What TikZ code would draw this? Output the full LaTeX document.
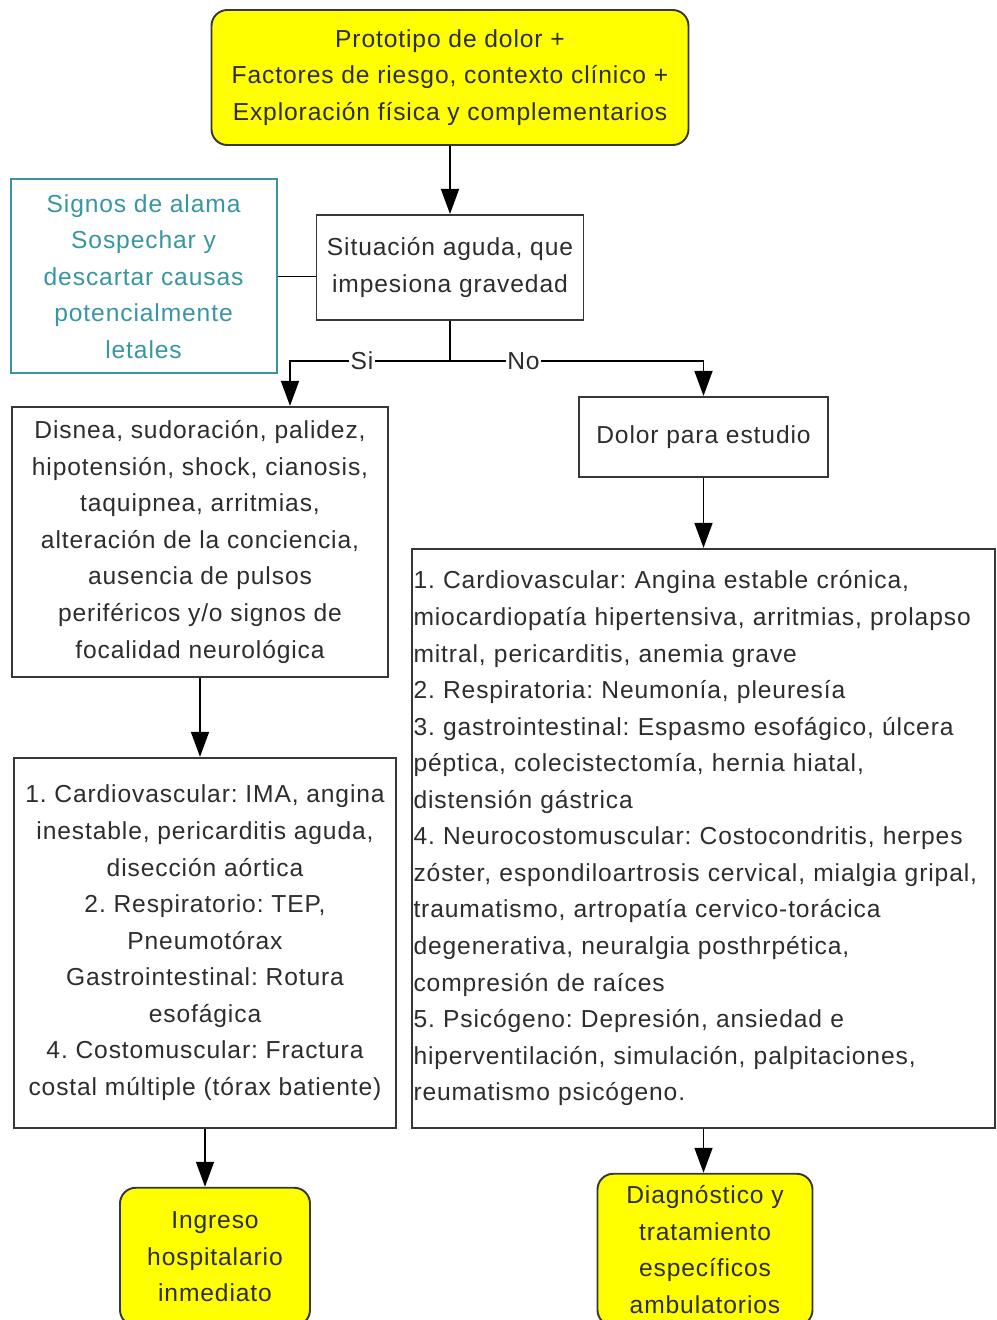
\documentclass[tikz,border=0pt]{standalone}
\usepackage{fontspec}
\setmainfont{Liberation Sans}[LetterSpace=3.6]
\usetikzlibrary{arrows.meta, positioning}
\frenchspacing

\definecolor{boxline}{RGB}{55,55,55}
\definecolor{textgray}{RGB}{45,45,45}
\definecolor{alarmteal}{RGB}{55,150,160}
\definecolor{endyellow}{RGB}{255,255,0}

\begin{document}
\begin{tikzpicture}[
      font=\fontsize{14}{20.8}\selectfont,
      text=textgray,
      plainbox/.style={
        draw=boxline,
        line width=1.1pt,
        align=center,
        inner sep=2pt
      },
      endbox/.style={
        plainbox,
        fill=endyellow,
        rounded corners=9pt
      },
      alarmbox/.style={
        draw=alarmteal,
        line width=1.1pt,
        text=alarmteal,
        align=center
      },
      flow/.style={-{Triangle[length=5mm,width=3.6mm]}, draw=black, line width=0.9pt},
      link/.style={draw=black, line width=0.9pt},
      branch/.style={fill=white, inner sep=1pt, text=textgray}
    ]
    \useasboundingbox (0,0) rectangle (19.94,-26.4);

    % Entrada y decision
    \node[endbox, minimum width=9.54cm, minimum height=2.7cm] (proto) at (9.0,-1.55)
      {Prototipo de dolor +\\Factores de riesgo, contexto clínico +\\Exploración física y complementarios};
    \node[plainbox, minimum width=5.34cm, minimum height=2.1cm, below=1.36cm of proto] (sit)
      {Situación aguda, que\\impesiona gravedad};
    \node[alarmbox, minimum width=5.32cm, minimum height=3.88cm, left=0.76cm of sit, yshift=-0.18cm] (signos)
      {Signos de alama\\Sospechar y\\descartar causas\\potencialmente\\letales};
    \coordinate[below=0.8cm of sit] (split);

    % Rama Si
    \node[plainbox, minimum width=7.52cm, minimum height=5.4cm, below=0.9cm of split, xshift=-5.0cm] (disnea)
      {Disnea, sudoración, palidez,\\hipotensión, shock, cianosis,\\taquipnea, arritmias,\\alteración de la conciencia,\\ausencia de pulsos\\periféricos y/o signos de\\focalidad neurológica};
    \node[plainbox, minimum width=7.64cm, minimum height=7.4cm, below=1.58cm of disnea, xshift=0.1cm] (graves)
      {1. Cardiovascular: IMA, angina\\inestable, pericarditis aguda,\\disección aórtica\\2. Respiratorio: TEP,\\Pneumotórax\\Gastrointestinal: Rotura\\esofágica\\4. Costomuscular: Fractura\\costal múltiple (tórax batiente)};
    \node[endbox, minimum width=3.8cm, minimum height=2.76cm, below=1.16cm of graves, xshift=0.2cm] (ingreso)
      {Ingreso\\hospitalario\\inmediato};

    % Rama No
    \node[plainbox, minimum width=4.98cm, minimum height=1.6cm, below=0.7cm of split, xshift=5.07cm] (dolor)
      {Dolor para estudio};
    \node[plainbox, minimum width=11.66cm, minimum height=11.58cm, text width=11.6cm, align=left, inner xsep=0.03cm, below=1.4cm of dolor] (causas)
      {1. Cardiovascular: Angina estable crónica,\\miocardiopatía hipertensiva, arritmias, prolapso\\mitral, pericarditis, anemia grave\\2. Respiratoria: Neumonía, pleuresía\\3. gastrointestinal: Espasmo esofágico, úlcera\\péptica, colecistectomía, hernia hiatal,\\distensión gástrica\\4. Neurocostomuscular: Costocondritis, herpes\\zóster, espondiloartrosis cervical, mialgia gripal,\\traumatismo, artropatía cervico-torácica\\degenerativa, neuralgia posthrpética,\\compresión de raíces\\5. Psicógeno: Depresión, ansiedad e\\hiperventilación, simulación, palpitaciones,\\reumatismo psicógeno.};
    \node[endbox, minimum width=4.3cm, minimum height=3.04cm, below=0.88cm of causas, xshift=0.03cm] (diag)
      {Diagnóstico y\\tratamiento\\específicos\\ambulatorios};

    % Conexiones
    \draw[flow] (proto) -- (sit);
    \draw[link] (signos.east) -- (signos.east -| sit.west);
    \draw[link] (sit) -- (split);
    \draw[flow] (split) -| node[branch, pos=0.275] {Si} ([xshift=1.8cm]disnea.north);
    \draw[flow] (split) -| node[branch, pos=0.145] {No} (dolor.north);
    \draw[flow] (disnea.south) -- (disnea.south |- graves.north);
    \draw[flow] (dolor) -- (causas);
    \draw[flow] (graves.south) -- (graves.south |- ingreso.north);
    \draw[flow] (causas.south) -- (causas.south |- diag.north);

  \end{tikzpicture}
\end{document}
